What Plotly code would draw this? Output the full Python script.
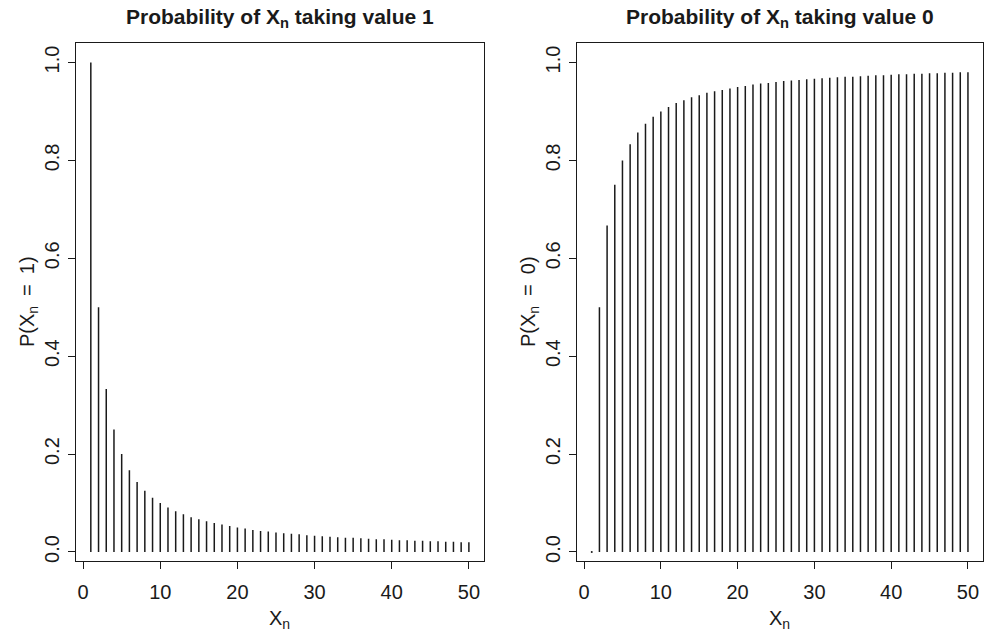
import plotly.graph_objects as go

# ---- data ----
n_values = [1, 2, 3, 4, 5, 6, 7, 8, 9, 10, 11, 12, 13, 14, 15, 16, 17, 18, 19, 20,
            21, 22, 23, 24, 25, 26, 27, 28, 29, 30, 31, 32, 33, 34, 35, 36, 37, 38, 39, 40,
            41, 42, 43, 44, 45, 46, 47, 48, 49, 50]
p_one = [1.000, 0.500, 0.333, 0.250, 0.200, 0.167, 0.143, 0.125, 0.111, 0.100,
         0.091, 0.083, 0.077, 0.071, 0.067, 0.063, 0.059, 0.056, 0.053, 0.050,
         0.048, 0.045, 0.043, 0.042, 0.040, 0.038, 0.037, 0.036, 0.034, 0.033,
         0.032, 0.031, 0.030, 0.029, 0.029, 0.028, 0.027, 0.026, 0.026, 0.025,
         0.024, 0.024, 0.023, 0.023, 0.022, 0.022, 0.021, 0.021, 0.020, 0.020]
p_zero = [0.000, 0.500, 0.667, 0.750, 0.800, 0.833, 0.857, 0.875, 0.889, 0.900,
          0.909, 0.917, 0.923, 0.929, 0.933, 0.938, 0.941, 0.944, 0.947, 0.950,
          0.952, 0.955, 0.957, 0.958, 0.960, 0.962, 0.963, 0.964, 0.966, 0.967,
          0.968, 0.969, 0.970, 0.971, 0.971, 0.972, 0.973, 0.974, 0.974, 0.975,
          0.976, 0.976, 0.977, 0.977, 0.978, 0.978, 0.979, 0.979, 0.980, 0.980]
x_ticks = [0, 10, 20, 30, 40, 50]
y_ticks = [0.0, 0.2, 0.4, 0.6, 0.8, 1.0]

titles = ["<b>Probability of X<sub>n</sub> taking value 1</b>",
          "<b>Probability of X<sub>n</sub> taking value 0</b>"]
y_titles = ["P(X<sub>n</sub>\u2002=\u20021)", "P(X<sub>n</sub>\u2002=\u20020)"]
x_title = "X<sub>n</sub>"

FONT = "Liberation Sans, Arial, Helvetica, sans-serif"
INK = "#1a1a1a"
W, H = 987, 637


def spikes(xs, ys):
    sx, sy = [], []
    for x, y in zip(xs, ys):
        sx += [x, x, None]
        sy += [0, y, None]
    return sx, sy


fig = go.Figure()

for i, vals in enumerate([p_one, p_zero]):
    sx, sy = spikes(n_values, vals)
    suffix = "" if i == 0 else "2"
    fig.add_trace(go.Scatter(x=sx, y=sy, mode="lines",
                             line=dict(color=INK, width=1.5),
                             xaxis="x" + suffix, yaxis="y" + suffix,
                             showlegend=False, hoverinfo="skip"))
    # zero-height spikes appear as a dot in the picture
    zx = [x for x, v in zip(n_values, vals) if v == 0]
    if zx:
        fig.add_trace(go.Scatter(x=zx, y=[0] * len(zx), mode="markers",
                                 marker=dict(color=INK, size=2),
                                 xaxis="x" + suffix, yaxis="y" + suffix,
                                 showlegend=False, hoverinfo="skip"))

# panel geometry (paper fractions)
x_domains = [[75.7 / W, 484 / W], [576.7 / W, 983 / W]]
y_domain = [(H - 562.7) / H, (H - 43.3) / H]

common_x = dict(range=[-0.96, 51.96], tickvals=x_ticks, ticks="outside", ticklen=7,
                tickcolor=INK, tickwidth=1, showline=True, mirror=True, linecolor=INK,
                linewidth=1, showgrid=False, zeroline=False,
                tickfont=dict(family=FONT, size=20, color=INK), ticklabelstandoff=6)
common_y = dict(range=[-0.0183, 1.0395], tickvals=y_ticks, tickformat=".1f",
                ticks="outside", ticklen=7, tickcolor=INK, tickwidth=1,
                showline=True, mirror=True, linecolor=INK, linewidth=1,
                showgrid=False, zeroline=False, tickangle=-90,
                tickfont=dict(family=FONT, size=20, color=INK), ticklabelstandoff=1)

fig.update_layout(
    width=W, height=H,
    margin=dict(l=0, r=0, t=0, b=0),
    paper_bgcolor="white", plot_bgcolor="white",
    xaxis=dict(domain=x_domains[0], anchor="y", **common_x),
    yaxis=dict(domain=y_domain, anchor="x", **common_y),
    xaxis2=dict(domain=x_domains[1], anchor="y2", **common_x),
    yaxis2=dict(domain=y_domain, anchor="x2", **common_y),
)

annotations = []
for i in range(2):
    cx = (x_domains[i][0] + x_domains[i][1]) / 2
    annotations.append(dict(text=titles[i], x=cx, y=1 - 18 / H, xref="paper", yref="paper",
                            showarrow=False, xanchor="center", yanchor="middle",
                            font=dict(family=FONT, size=21, color=INK)))
    annotations.append(dict(text=x_title, x=cx, y=1 - 621 / H, xref="paper", yref="paper",
                            showarrow=False, xanchor="center", yanchor="middle",
                            font=dict(family=FONT, size=20, color=INK)))
    ycx = (28 if i == 0 else 529) / W
    annotations.append(dict(text=y_titles[i], x=ycx, y=(y_domain[0] + y_domain[1]) / 2,
                            xref="paper", yref="paper", textangle=-90,
                            showarrow=False, xanchor="center", yanchor="middle",
                            font=dict(family=FONT, size=20, color=INK)))
fig.update_layout(annotations=annotations)

fig.write_html("out.html")
